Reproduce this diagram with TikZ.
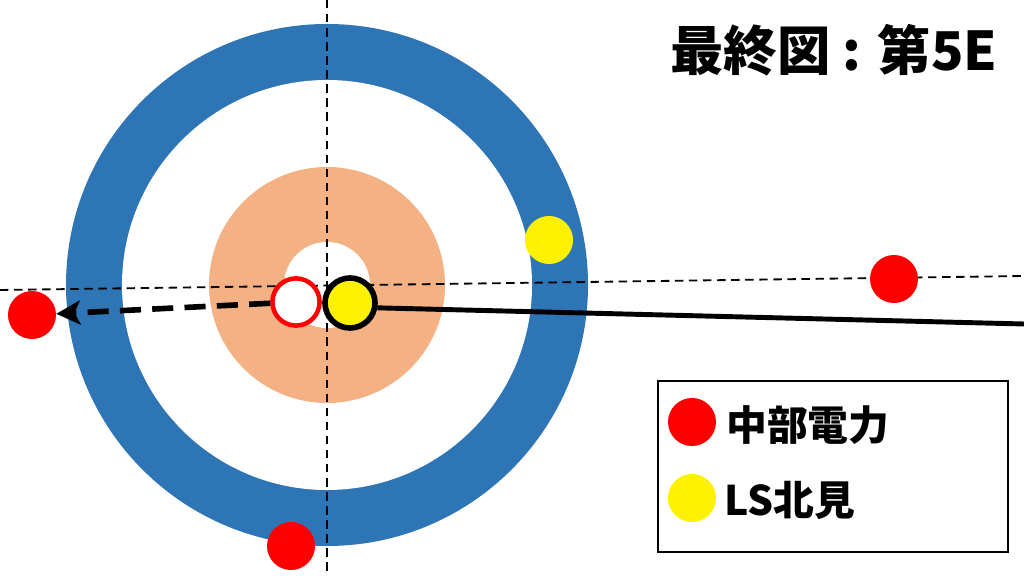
\documentclass[tikz,border=0pt]{standalone}
\usepackage{fontspec}
\newfontfamily\jp{Noto Sans CJK JP}
\usetikzlibrary{arrows.meta,positioning}
\definecolor{ringblue}{HTML}{2E75B6}
\definecolor{ringorange}{HTML}{F4B183}
\tikzset{stone/.style={circle,minimum size=1.2cm,inner sep=0pt},guide/.style={line width=1.3pt,dash pattern=on 6pt off 4pt},
lbl/.style={font=\jp\bfseries\fontsize{29}{32}\selectfont,anchor=west,inner sep=0pt},arr/.style={-{Stealth[length=17pt,width=17pt,inset=4pt]},line width=4pt,dash pattern=on 15pt off 8pt}}
\begin{document}
\begin{tikzpicture}[x=0.025cm,y=-0.025cm]
\useasboundingbox(0,0)rectangle(1024,576);
% house
\fill[ringblue](327,285)circle(261);\fill[white](327,285)circle(205);
\fill[ringorange](327,285)circle(118);\fill[white](327,285)circle(43);
% centre lines
\coordinate(hl)at(0,290);\coordinate(hr)at(1024,276);\coordinate(vt)at(327,0);\coordinate(vb)at(327,576);
\draw[guide](hl)--(hr);\draw[guide](vt)--(vb);
% stones
\node[stone,fill=red](r1)at(32,315){};\node[stone,fill=red](r2)at(894,279){};
\node[stone,fill=red](r3)at(291,546){};\node[stone,fill=yellow](y1)at(549,240){};
\node[stone,draw=red,fill=white,line width=3.2pt,minimum size=1.18cm](r0)at(296,302){};
\node[stone,draw=black,fill=yellow,line width=4pt,minimum size=1.25cm](y0)at(350,303){};
\coordinate(tail)at(1024,324);
\draw[line width=3.5pt](y0.-10)--(tail);
\draw[arr](r0)--(r1);
% title and legend
\node[font=\jp\bfseries\fontsize{38}{42}\selectfont](title)at(834,50){最終図 : 第5E};
\node[draw,line width=1.7pt,minimum width=8.75cm,minimum height=4.275cm,inner sep=0pt](legend)at(833,466.5){};
\node[stone,fill=red](kr)at(692,422){};\node[lbl](kt)at(726,425){中部電力};
\node[stone,fill=yellow](ky)at(692,498){};\node[lbl](yt)at(724,500){LS北見};
\end{tikzpicture}
\end{document}
